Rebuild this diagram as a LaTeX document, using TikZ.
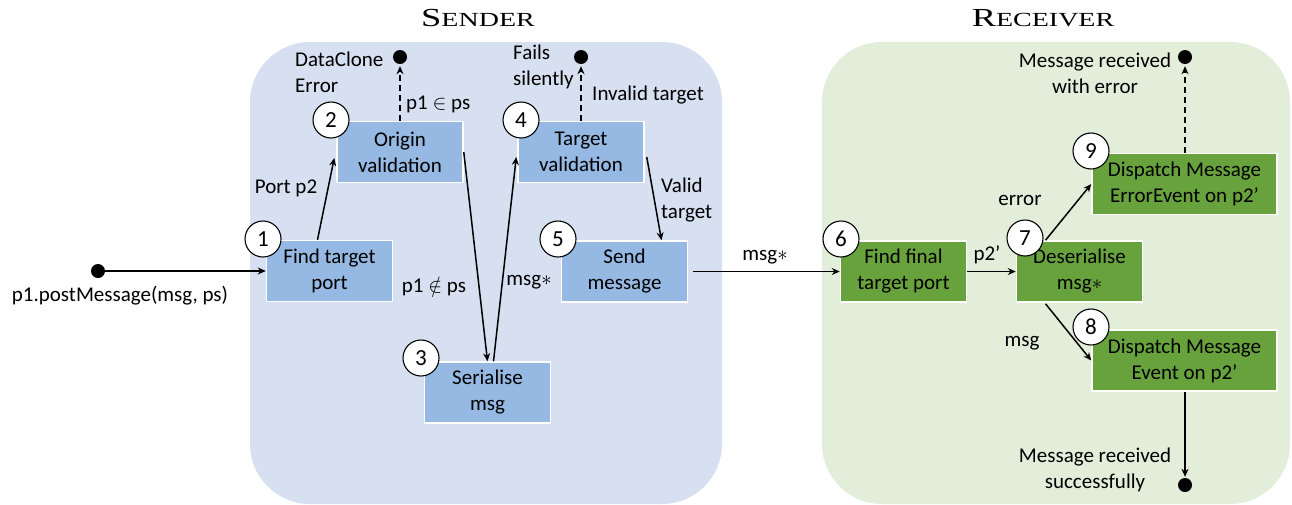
\documentclass[tikz,border=0pt]{standalone}
\usepackage{fontspec}
\setmainfont{Carlito}
\newfontfamily\titlefont{Liberation Serif}
\usetikzlibrary{arrows.meta,calc}
\definecolor{sbg}{HTML}{D6E0F1}
\definecolor{rbg}{HTML}{E2EEDA}
\definecolor{bluebox}{HTML}{95B9E2}
\definecolor{greenbox}{HTML}{67A23D}
\newcommand{\ttl}[2]{\titlefont\scalebox{1.4}[1]{{\fontsize{26}{26}\selectfont #1}{\fontsize{20}{20}\selectfont #2}}}
\begin{document}
\begin{tikzpicture}[x=1pt,y=-1pt,
  every node/.style={font=\fontsize{21}{26}\selectfont},
  bbox/.style={draw=white, line width=1.5pt, fill=bluebox, minimum width=126pt, minimum height=61pt, inner sep=0pt, align=center},
  gbox/.style={bbox, fill=greenbox},
  num/.style={circle, draw=black, fill=white, line width=1.1pt, minimum size=36pt, inner sep=0pt, font=\fontsize{23}{23}\selectfont},
  term/.style={circle, fill=black, minimum size=14pt, inner sep=0pt},
  conn/.style={line width=1.5pt, -{Stealth[length=8pt,width=7pt]}},
  dconn/.style={conn, dash pattern=on 6pt off 4pt},
  lbl/.style={inner sep=0pt, align=left},
  clbl/.style={inner sep=0pt, align=center},
]
\useasboundingbox (0,0) rectangle (1292,504);
\fill[sbg, rounded corners=60pt] (250,42) rectangle (722,504);
\fill[rbg, rounded corners=60pt] (822,42) rectangle (1290,504);

\node[clbl] (tS) at (478,18) {\ttl{S}{ENDER}};
\node[clbl] (tR) at (1043,18) {\ttl{R}{ECEIVER}};

% boxes
\node[bbox] (b1) at (329.5,271) {Find target\\port};
\node[bbox] (b2) at (400,152) {Origin\\validation};
\node[bbox] (b3) at (487.5,392.5) {Serialise\\msg};
\node[bbox] (b4) at (581,152) {Target\\validation};
\node[bbox] (b5) at (624.5,271.5) {Send\\message};
\node[gbox] (b6) at (903.5,271.5) {Find final\\target port};
\node[gbox] (b7) at (1079.5,271.5) {Deserialise\\msg$\ast$};
\node[gbox, minimum width=185pt] (b9) at (1184.5,184) {Dispatch Message\\ErrorEvent on p2’};
\node[gbox, minimum width=185pt] (b8) at (1184.5,360.5) {Dispatch Message\\Event on p2’};

% terminals
\node[term] (s0) at (98,271) {};
\node[term] (e2) at (400,57) {};
\node[term] (e4) at (581,57) {};
\node[term] (e9) at (1185,57) {};
\node[term] (e8) at (1185,485) {};

% connectors
\draw[conn] (s0) -- (b1.west);
\draw[conn] ($(b1.north)+(-12,0)$) -- ($(b2.west)+(-2,6)$);
\draw[conn] (b2.east) -- (b3.north);
\draw[conn] ($(b3.north)+(6,0)$) -- ($(b4.west)+(-1,5)$);
\draw[conn] ($(b4.east)+(2,5)$) -- ($(b5.north)+(37,0)$);
\draw[dconn, shorten >=2pt] (b2.north) -- (e2.south);
\draw[dconn, shorten >=2pt] (b4.north) -- (e4.south);
\draw[conn, shorten <=5pt] (b5.east) -- (b6.west);
\draw[conn] (b6.east) -- (b7.west);
\draw[conn] ($(b7.north)+(-34,0)$) -- (b9.west);
\draw[conn] ($(b7.south)+(-34,1)$) -- (b8.west);
\draw[dconn, shorten >=2pt] (b9.north -| e9) -- (e9.south);
\draw[conn, shorten >=1pt] (b8.south -| e8) -- (e8.north);

% numbers
\node[num] (c1) at (263,239) {1};
\node[num] (c2) at (331,120) {2};
\node[num] (c3) at (421,358) {3};
\node[num] (c4) at (521,120) {4};
\node[num] (c5) at (558,239) {5};
\node[num] (c6) at (841,239) {6};
\node[num] (c7) at (1025,238) {7};
\node[num] (c8) at (1091,327) {8};
\node[num] (c9) at (1091,151) {9};

% labels
\node[clbl] (l0) at (120,296) {p1.postMessage(msg, ps)};
\node[clbl] (l1) at (286,188) {Port p2};
\node[clbl] (l2) at (434,286) {p1 $\notin$ ps};
\node[clbl] (l3) at (529,282) {msg$\ast$};
\node[lbl, anchor=west] (l4) at (661,200) {Valid\\target};
\node[lbl, anchor=west] (l5) at (295,72) {DataClone\\Error};
\node[lbl, anchor=west] (l6) at (406,104) {p1 $\in$ ps};
\node[lbl, anchor=west] (l7) at (513,67) {Fails\\silently};
\node[lbl, anchor=west] (l8) at (592,95) {Invalid target};
\node[clbl] (l9) at (765,257) {msg$\ast$};
\node[clbl] (l10) at (987,255) {p2’};
\node[clbl] (l11) at (1020,200) {error};
\node[clbl] (l12) at (1022,343) {msg};
\node[clbl] (l13) at (1095,73) {Message received\\with error};
\node[clbl] (l14) at (1095,470) {Message received\\successfully};
\end{tikzpicture}
\end{document}
